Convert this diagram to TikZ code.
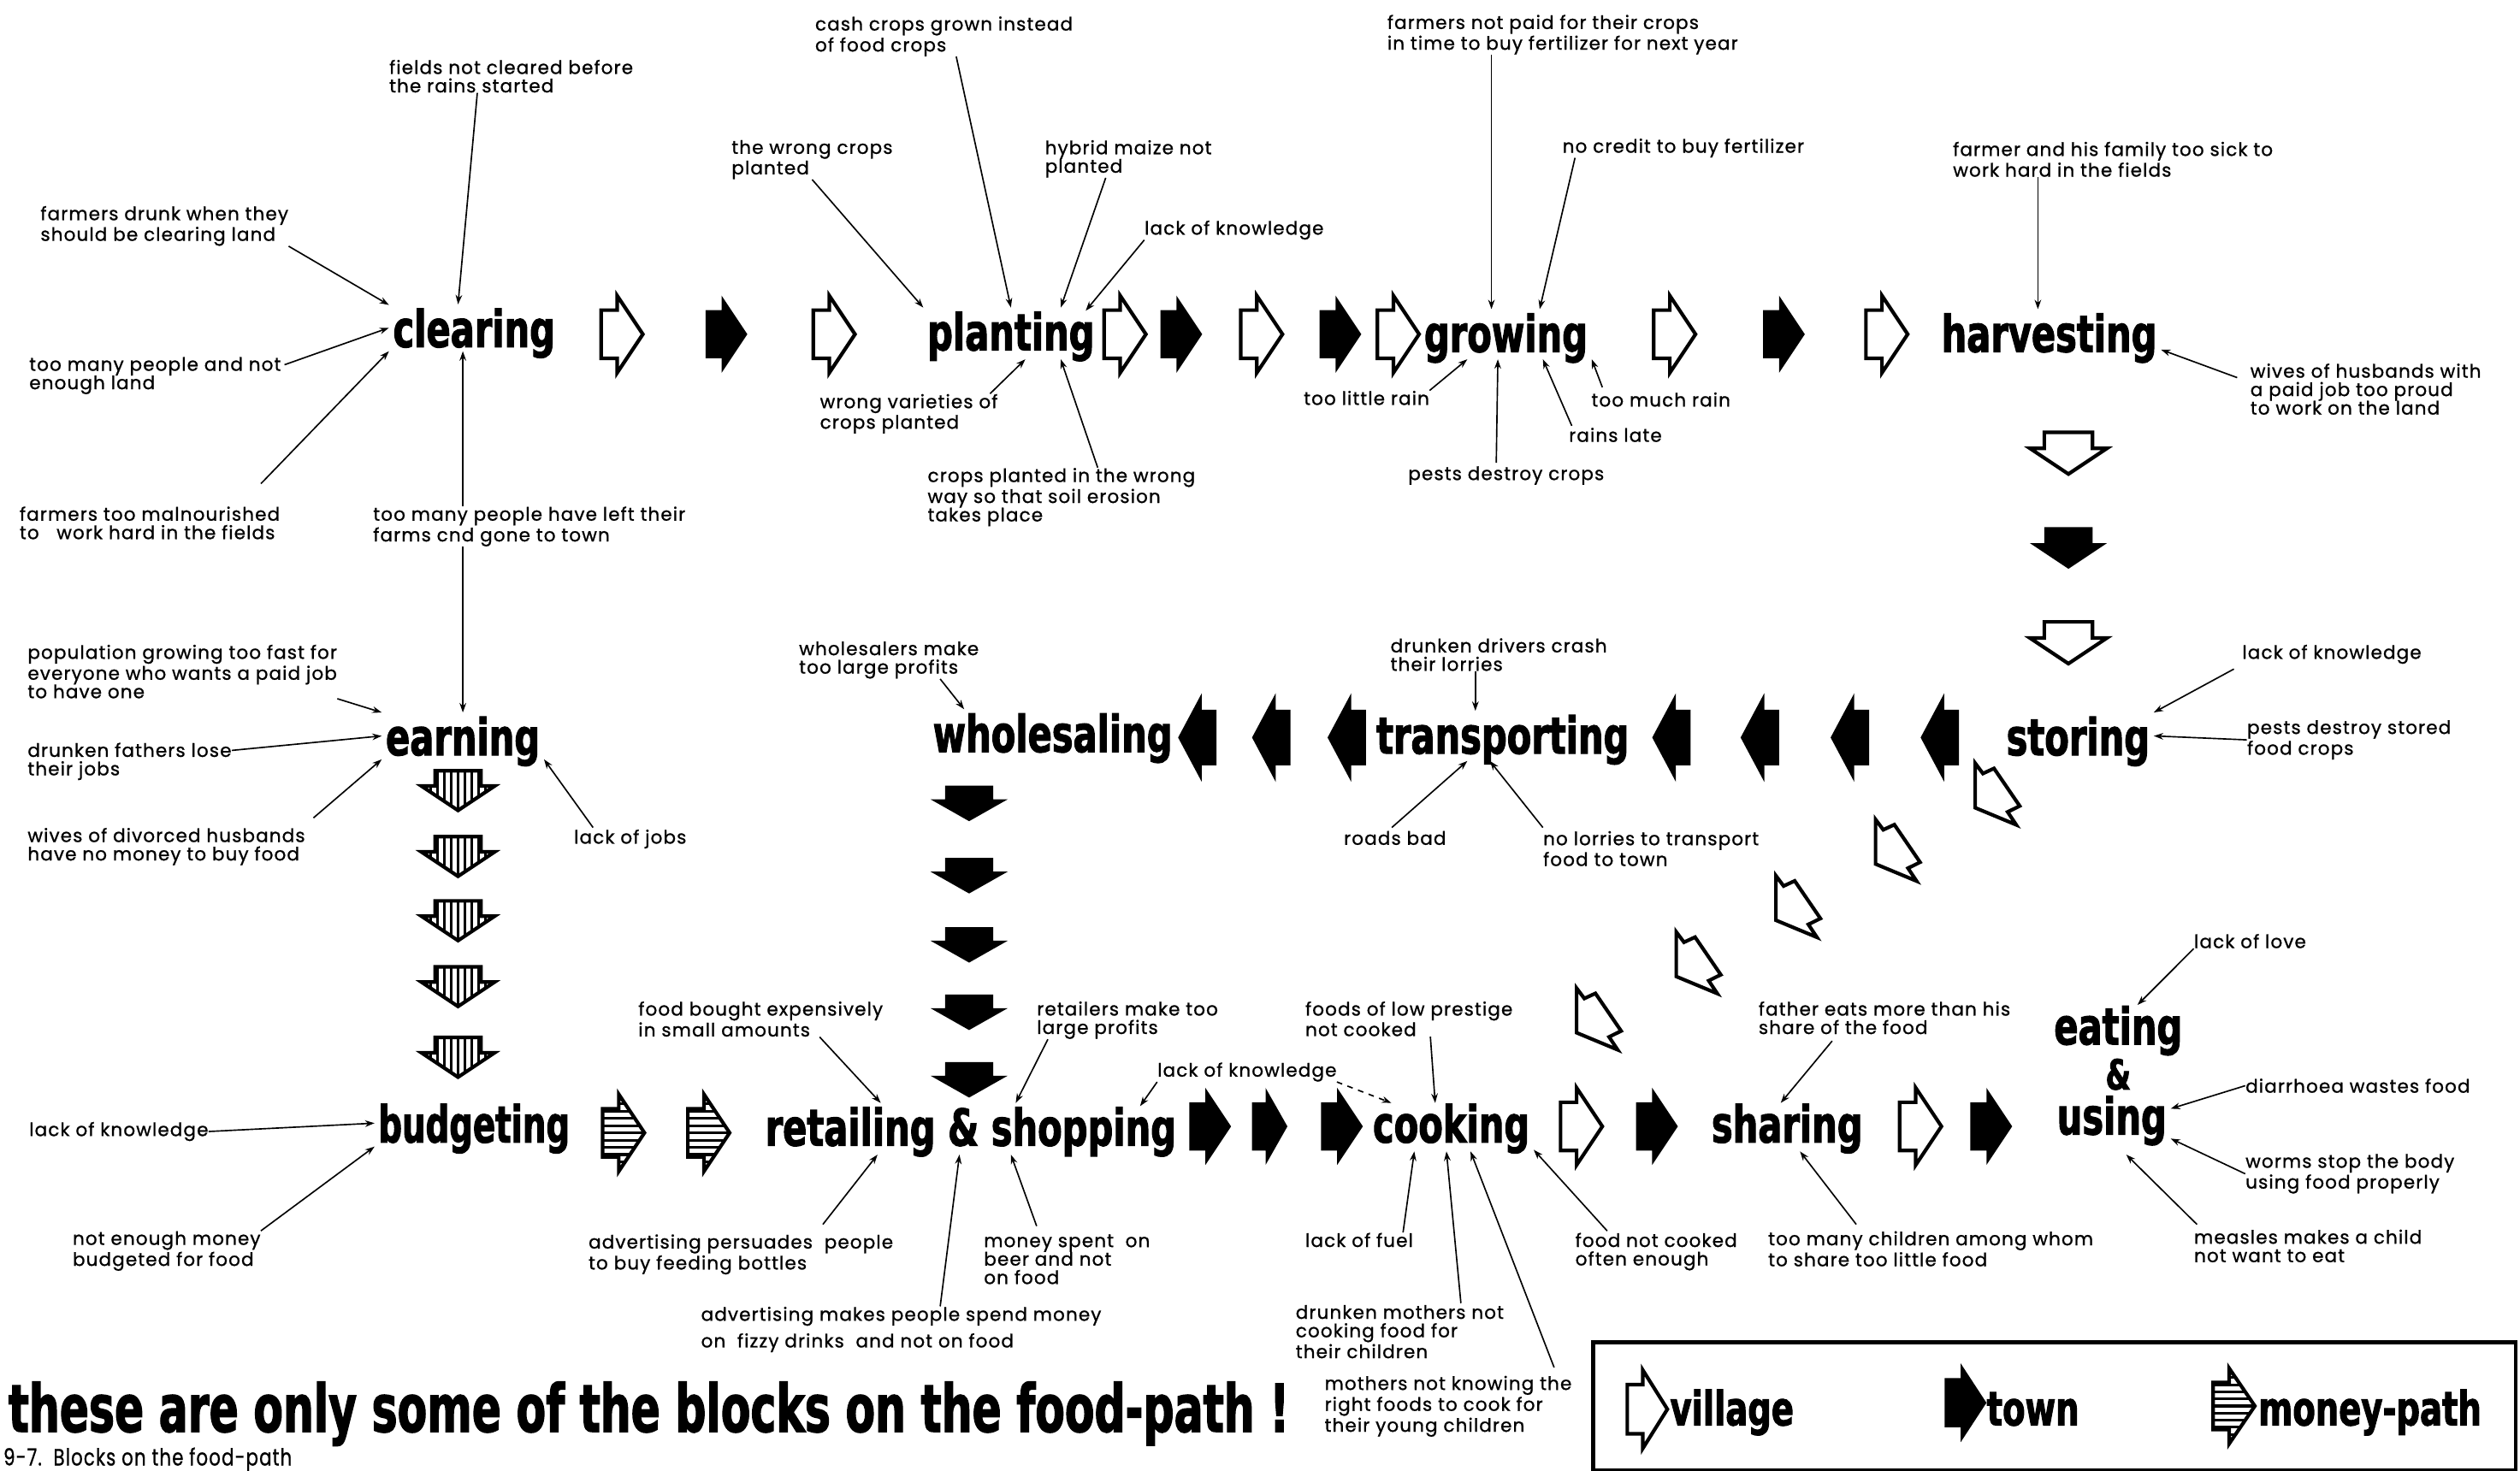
\documentclass[tikz,border=0pt]{standalone}
\usepackage{fontspec}
\setmainfont{Poppins}[LetterSpace=5, FakeBold=0.9]
\newfontfamily\heavy{DejaVu Sans}[UprightFont=* Bold, FakeStretch=0.7, FakeBold=1.8]
\usetikzlibrary{arrows.meta,calc}
\newcommand\lblf{\fontsize{9.8}{9.8}\selectfont}
\newcommand\topf{\heavy\fontsize{27}{27}\selectfont}
\newcommand\legf{\heavy\fontsize{25}{25}\selectfont}
\newcommand\titlef{\heavy\fontsize{35}{35}\selectfont}
\newcommand\capf{\fontsize{12.5}{14}\selectfont}
\tikzset{
 lbl/.style={font=\lblf, align=left, inner sep=0pt, anchor=north west},
 topic/.style={font=\topf, inner sep=2pt, text depth=0pt, anchor=base},
 legtext/.style={font=\legf, inner sep=0pt, anchor=base west},
 con/.style={line width=0.75pt, -{Stealth[length=5pt,width=3.5pt]}},
 pics/village/.style={code={\draw[line width=1.9pt, line join=miter, fill=white] (-13,-15) -- (-3,-15) -- (-3,-24) -- (13,0) -- (-3,24) -- (-3,15) -- (-13,15) -- cycle;}},
 pics/town/.style={code={\fill (-13,-15) -- (-3,-15) -- (-3,-24) -- (13,0) -- (-3,24) -- (-3,15) -- (-13,15) -- cycle;}},
 pics/money/.style={code={
   \begin{scope}
   \clip (-13,-15) -- (-3,-15) -- (-3,-24) -- (13,0) -- (-3,24) -- (-3,15) -- (-13,15) -- cycle;
   \foreach \yy in {-22.5,-18,...,22.6} \draw[line width=1.4pt] (-14,\yy) -- (14,\yy);
   \end{scope}
   \draw[line width=1.9pt, line join=miter] (-13,-15) -- (-3,-15) -- (-3,-24) -- (13,0) -- (-3,24) -- (-3,15) -- (-13,15) -- cycle;}},
 pics/diag/.style={code={\draw[line width=1.9pt, fill=white, line join=miter] (0,0) -- (4.8,6.4) -- (11.7,3.2) -- (27.7,26.6) -- (20.2,30.3) -- (25.5,38.3) -- (0,27.7) -- cycle;}},
}
\begin{document}
\begin{tikzpicture}[x=0.03cm, y=-0.03cm]
\useasboundingbox (0,0) rectangle (1568,915);
% ---------- topics
\node[topic] (C) at (295,216) {clearing};
\node[topic] (P) at (629,218) {planting};
\node[topic] (G) at (937,219) {growing};
\node[topic] (H) at (1275,219) {harvesting};
\node[topic] (E) at (288,470) {earning};
\node[topic] (W) at (655,468) {wholesaling};
\node[topic] (T) at (935,469) {transporting};
\node[topic] (S) at (1293,470) {storing};
\node[topic, xscale=0.93, transform shape] (B) at (295,711) {budgeting};
\node[topic] (R) at (604,713) {retailing \& shopping};
\node[topic] (K) at (903,711) {cooking};
\node[topic] (Sh) at (1112,711) {sharing};
\node[topic] (EA) at (1318,650) {eating};
\node[topic, font=\heavy\fontsize{22}{22}\selectfont] (AM) at (1318,678) {\&};
\node[topic] (US) at (1314,706) {using};
% ---------- labels row 1
\node[lbl] (fnc) at (242,37) {fields not cleared before\\the rains started};
\node[lbl] (fdw) at (25,128) {farmers drunk when they\\should be clearing land};
\node[lbl] (tmp) at (18,222) {too many people and not\\enough land};
\node[lbl] (ftm) at (12,315) {farmers too malnourished\\to\ \ \ work hard in the fields};
\node[lbl] (tml) at (232,315) {too many people have left their\\farms cnd gone to town};
\node[lbl] (ccg) at (507,10) {cash crops grown instead\\of food crops};
\node[lbl] (twc) at (455,87) {the wrong crops\\planted};
\node[lbl] (hmn) at (650,87) {hybrid maize not\\planted};
\node[lbl] (lk1) at (712,137) {lack of knowledge};
\node[lbl] (wvc) at (510,245) {wrong varieties of\\crops planted};
\node[lbl] (cpw) at (577,291) {crops planted in the wrong\\way so that soil erosion\\takes place};
\node[lbl] (fnp) at (863,9) {farmers not paid for their crops\\in time to buy fertilizer for next year};
\node[lbl] (ncb) at (972,86) {no credit to buy fertilizer};
\node[lbl] (tlr) at (811,243) {too little rain};
\node[lbl] (pdc) at (876,290) {pests destroy crops};
\node[lbl] (rl) at (976,266) {rains late};
\node[lbl] (tmr) at (990,244) {too much rain};
\node[lbl] (fhf) at (1215,88) {farmer and his family too sick to\\work hard in the fields};
\node[lbl] (woh) at (1400,226) {wives of husbands with\\a paid job too proud\\to work on the land};
% ---------- labels row 2
\node[lbl] (pgf) at (17,401) {population growing too fast for\\everyone who wants a paid job\\to have one};
\node[lbl] (dfl) at (17,462) {drunken fathers lose\\their jobs};
\node[lbl] (wdh) at (17,515) {wives of divorced husbands\\have no money to buy food};
\node[lbl] (loj) at (357,516) {lack of jobs};
\node[lbl] (wmp) at (497,399) {wholesalers make\\too large profits};
\node[lbl] (ddc) at (865,397) {drunken drivers crash\\their lorries};
\node[lbl] (rb) at (836,517) {roads bad};
\node[lbl] (nlt) at (960,517) {no lorries to transport\\food to town};
\node[lbl] (lk2) at (1395,401) {lack of knowledge};
\node[lbl] (pds) at (1398,448) {pests destroy stored\\food crops};
% ---------- labels row 3
\node[lbl] (lk3) at (18,698) {lack of knowledge};
\node[lbl] (nem) at (45,766) {not enough money\\budgeted for food};
\node[lbl] (fbe) at (397,623) {food bought expensively\\in small amounts};
\node[lbl] (rmt) at (645,623) {retailers make too\\large profits};
\node[lbl] (apb) at (366,768) {advertising persuades\ \ people\\to buy feeding bottles};
\node[lbl] (msb) at (612,768) {money spent\ \ on\\beer and not\\on food};
\node[lbl] (amp) at (436,813) {advertising makes people spend money\\[3pt]on\ \ fizzy drinks\ \ and not on food};
\node[lbl] (lk4) at (720,661) {lack of knowledge};
\node[lbl] (flp) at (812,623) {foods of low prestige\\not cooked};
\node[lbl] (lof) at (812,767) {lack of fuel};
\node[lbl] (dmn) at (806,812) {drunken mothers not\\cooking food for\\their children};
\node[lbl] (mnk) at (824,856) {mothers not knowing the\\right foods to cook for\\their young children};
\node[lbl] (fnc2) at (980,767) {food not cooked\\often enough};
\node[lbl] (fem) at (1094,623) {father eats more than his\\share of the food};
\node[lbl] (tmc) at (1100,766) {too many children among whom\\to share too little food};
\node[lbl] (lol) at (1365,581) {lack of love};
\node[lbl] (dwf) at (1397,671) {diarrhoea wastes food};
\node[lbl] (wsb) at (1397,718) {worms stop the body\\using food properly};
\node[lbl] (mmc) at (1365,765) {measles makes a child\\not want to eat};
% ---------- title, caption, legend
\node[anchor=base west, font=\titlef, inner sep=0, xscale=0.935, transform shape] (title) at (5,891) {these are only some of the blocks on the food-path !};
\node[anchor=base west, font=\capf, inner sep=0, xscale=0.78, transform shape] (cap) at (2,912) {9-7.\ \ Blocks on the food-path};
\node[draw, line width=2.2pt, inner sep=0, minimum width=17.22cm, minimum height=2.4cm, anchor=north west] (legend) at (990,834) {};
\pic[xscale=0.96, yscale=1.02] at (1025,877) {village};
\node[legtext] (lv) at (1039,887) {village};
\pic[xscale=1.0, yscale=1.02] at (1223,873) {town};
\node[legtext] (lt) at (1236,887) {town};
\pic[xscale=1.0, yscale=0.98] at (1390,875) {money};
\node[legtext] (lm) at (1405,887) {money-path};
% ---------- block arrows row 1
\pic at (387,208) {village}; \pic at (452,208) {town}; \pic at (519,208) {village};
\pic at (700,208) {village}; \pic at (735,208) {town}; \pic at (785,208) {village};
\pic at (834,208) {town}; \pic at (870,208) {village};
\pic at (1042,208) {village}; \pic at (1110,208) {town}; \pic at (1174,208) {village};
% column down
\pic[rotate=-90] at (1287,282) {village};
\pic[rotate=-90] at (1287,341) {town};
\pic[rotate=-90] at (1287,400) {village};
% row 2 left
\foreach \xx in {1207,1151,1095,1040,838,791,745}
  \pic[rotate=180, xscale=0.92, yscale=1.15] at (\xx,459) {town};
% diagonal
\pic at (1229,475) {diag}; \pic at (1167,510) {diag}; \pic at (1105,545) {diag};
\pic at (1043,580) {diag}; \pic at (981,615) {diag};
% wholesaling column
\foreach \yy in {500,545,588,630,672}
  \pic[rotate=-90, xscale=0.85] at (603,\yy) {town};
% earning column
\foreach \yy in {492,533,573,614,658}
  \pic[rotate=-90, xscale=0.95, yscale=0.95] at (285,\yy) {money};
% row 3
\pic at (388,705) {money}; \pic at (441,705) {money};
\pic at (753,701) {town}; \pic[xscale=0.85] at (790,701) {town}; \pic at (835,701) {town};
\pic at (984,701) {village}; \pic at (1031,701) {town};
\pic at (1195,701) {village}; \pic at (1239,701) {town};
% ---------- connectors row 1
\draw[con] ($(fnc.south west)+(55,0)$) -- ($(C.north)+(-10,0)$);
\draw[con] (fdw.south east) -- (C.165);
\draw[con] ($(tmp.north east)+(2,5)$) -- (C.west);
\draw[con] ($(ftm.north east)+(-12,-14)$) -- (C.south west);
\draw[con] (tml.north -| E.north) -- (C.south -| E.north);
\draw[con] (tml.south -| E.north) -- (E.north);
\draw[con] ($(ccg.south west)+(88,0)$) -- (P.north);
\draw[con] (twc.south) -- (P.north west);
\draw[con] ($(hmn.south west)+(38,0)$) -- ($(P.north)+(31,0)$);
\draw[con] (lk1.south west) -- ($(P.north east)+(-8,2)$);
\draw[con] ($(wvc.north east)+(-5,0)$) -- ($(P.south)+(9,3)$);
\draw[con] ($(cpw.north west)+(106,0)$) -- ($(P.south)+(31,3)$);
\draw[con] ($(fnp.south west)+(65,0)$) -- ($(G.north)+(-9,0)$);
\draw[con] ($(ncb.south west)+(8,0)$) -- ($(G.north)+(21,0)$);
\draw[con] (tlr.north east) -- ($(G.south)+(-24,2)$);
\draw[con] ($(pdc.north west)+(55,-2)$) -- ($(G.south)+(-5,2)$);
\draw[con] ($(rl.north west)+(2,-1)$) -- ($(G.south)+(23,2)$);
\draw[con] ($(tmr.north west)+(7,-3)$) -- ($(G.south east)+(0,2)$);
\draw[con] ($(fhf.south west)+(53,0)$) -- ($(H.north)+(-7,0)$);
\draw[con] ($(woh.north west)+(-8,9)$) -- ($(H.south east)+(0,-4)$);
% ---------- connectors row 2
\draw[con] (pgf.south east) -- (E.north west);
\draw[con] ($(dfl.north east)+(0,5)$) -- (E.west);
\draw[con] ($(wdh.north east)+(5,-6)$) -- (E.south west);
\draw[con] ($(loj.north west)+(12,-1)$) -- (E.south east);
\draw[con] ($(wmp.south west)+(88,0)$) -- ($(W.north west)+(22,0)$);
\draw[con] ($(ddc.south west)+(53,0)$) -- ($(T.north)+(-17,0)$);
\draw[con] ($(rb.north west)+(30,-2)$) -- ($(T.south)+(-22,2)$);
\draw[con] ($(nlt.north west)+(0,-2)$) -- ($(T.south)+(-8,2)$);
\draw[con] ($(lk2.south west)+(-5,3)$) -- (S.north east);
\draw[con] (pds.west) -- (S.east);
% ---------- connectors row 3
\draw[con] (lk3.east) -- (B.west);
\draw[con] (nem.north east) -- (B.south west);
\draw[con] ($(fbe.south west)+(113,0)$) -- ($(R.north)+(-56,0)$);
\draw[con] ($(rmt.south west)+(7,0)$) -- ($(R.north)+(28,0)$);
\draw[con] ($(apb.north west)+(146,-6)$) -- ($(R.south)+(-58,3)$);
\draw[con] ($(msb.north west)+(33,-5)$) -- ($(R.south)+(25,3)$);
\draw[con] ($(amp.north west)+(149,0)$) -- ($(R.south)+(-7,3)$);
\draw[con] (lk4.south west) -- ($(R.north east)+(-25,2)$);
\draw[con, dashed] (lk4.south east) -- ($(K.north west)+(14,2)$);
\draw[con] ($(flp.south west)+(78,0)$) -- ($(K.north)+(-10,2)$);
\draw[con] ($(lof.north west)+(61,0)$) -- ($(K.south)+(-23,3)$);
\draw[con] ($(dmn.north west)+(103,-1)$) -- ($(K.south)+(-3,3)$);
\draw[con] ($(mnk.north west)+(143,-5)$) -- ($(K.south)+(12,3)$);
\draw[con] ($(fnc2.north west)+(20,-1)$) -- ($(K.south east)+(0,2)$);
\draw[con] ($(fem.south west)+(46,4)$) -- ($(Sh.north)+(-4,2)$);
\draw[con] ($(tmc.north west)+(55,-4)$) -- ($(Sh.south)+(8,3)$);
\draw[con] (lol.south west) -- ($(EA.north)+(12,2)$);
\draw[con] (dwf.west) -- ($(US.east)+(0,-4)$);
\draw[con] (wsb.west) -- (US.south east);
\draw[con] ($(mmc.north west)+(2,-3)$) -- ($(US.south)+(9,10)$);
\end{tikzpicture}
\end{document}
